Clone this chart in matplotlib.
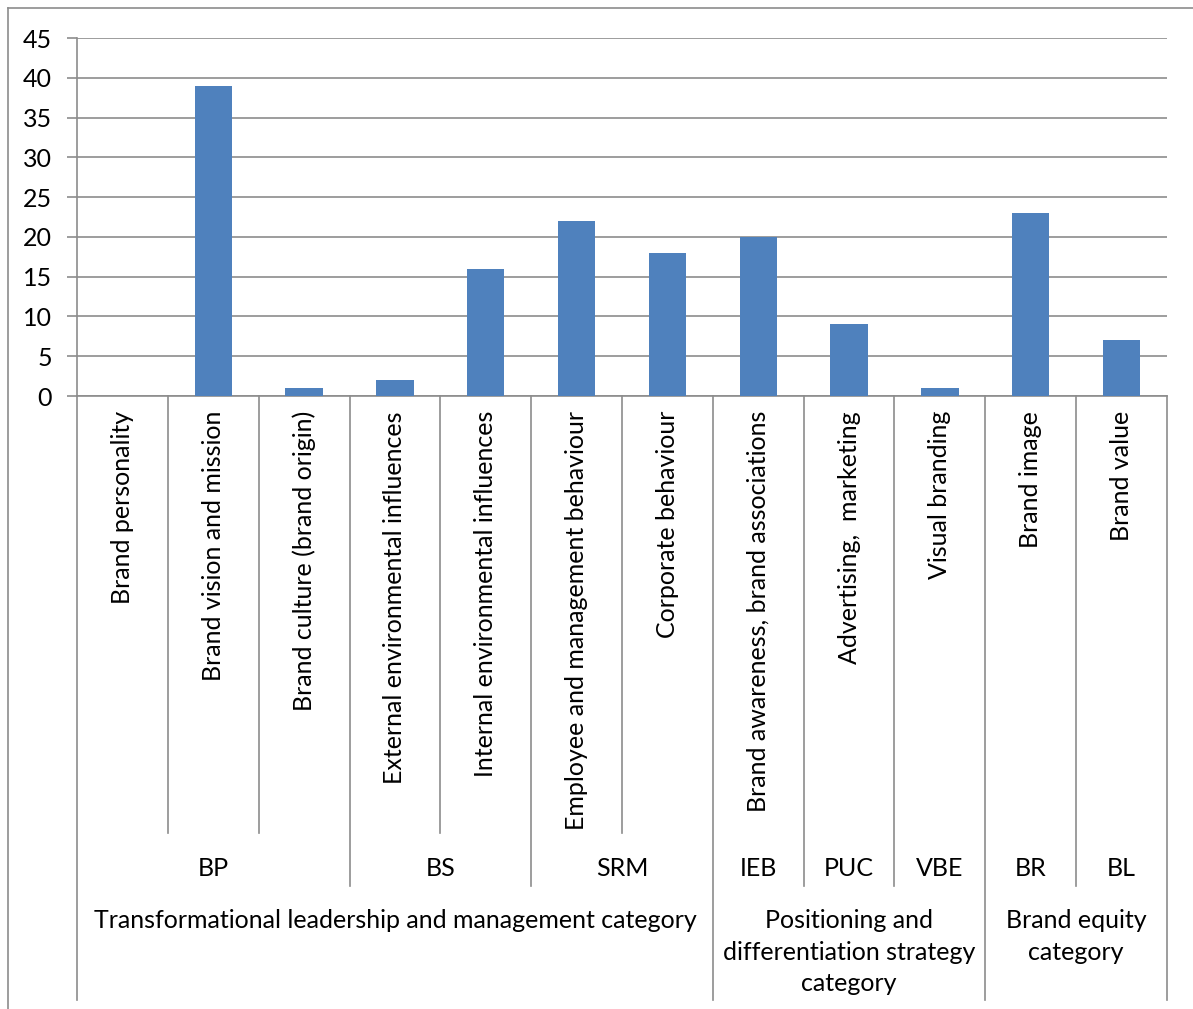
import numpy as np
import matplotlib.pyplot as plt
from matplotlib.transforms import blended_transform_factory

# data
labels = ["Brand personality", "Brand vision and mission", "Brand culture (brand origin)",
          "External environmental influences", "Internal environmental influences",
          "Employee and management behaviour", "Corporate behaviour",
          "Brand awareness, brand associations", "Advertising,  marketing",
          "Visual branding", "Brand image", "Brand value"]
values = [0, 39, 1, 2, 16, 22, 18, 20, 9, 1, 23, 7]
level2 = ["BP", "BP", "BP", "BS", "BS", "SRM", "SRM", "IEB", "PUC", "VBE", "BR", "BL"]
level3 = ["Transformational leadership and management category"] * 7 + \
         ["Positioning and\ndifferentiation strategy\ncategory"] * 3 + \
         ["Brand equity\ncategory"] * 2

plt.rcParams['font.family'] = ['Lato', 'DejaVu Sans']
W, H = 1193, 1009
fig = plt.figure(figsize=(W / 100, H / 100), dpi=100)
fs = 18

def fy(py):
    return 1 - py / H

left, right, top, bottom = 77, 1167, 38, 396
ax = fig.add_axes([left / W, fy(bottom), (right - left) / W, (bottom - top) / H])

grey = '#8c8c8c'
x = np.arange(len(values))
ax.bar(x, values, width=0.41, color='#4f81bd', zorder=3)
ax.set_xlim(-0.5, len(values) - 0.5)
ax.set_ylim(0, 45)
ax.set_yticks(range(0, 46, 5))
ax.yaxis.grid(True, color=grey, linewidth=1.2)
ax.set_axisbelow(True)
ax.set_xticks([])
for s in ['top', 'right']:
    ax.spines[s].set_visible(False)
for s in ['left', 'bottom']:
    ax.spines[s].set_color(grey)
    ax.spines[s].set_linewidth(1.2)
ax.tick_params(axis='y', length=7, color=grey, width=1.2, pad=11, labelsize=fs)

tr = blended_transform_factory(ax.transData, fig.transFigure)

# category labels
for i, lab in enumerate(labels):
    ax.text(i, fy(411), lab, rotation=90, ha='center', va='top', fontsize=fs,
            transform=tr)

def spans(groups):
    out = []
    start = 0
    for i in range(1, len(groups) + 1):
        if i == len(groups) or groups[i] != groups[start]:
            out.append((start, i - 1, groups[start]))
            start = i
    return out

for a, b, g in spans(level2):
    ax.text((a + b) / 2, fy(869), g, ha='center', va='center', fontsize=fs, transform=tr)
for a, b, g in spans(level3):
    ax.text((a + b) / 2, fy(909), g, ha='center', va='top', fontsize=fs,
            linespacing=1.45, transform=tr)

# separators between categories
b2 = {a - 0.5 for a, b, g in spans(level2)}
b3 = {a - 0.5 for a, b, g in spans(level3)} | {len(values) - 0.5}
for i in range(len(values) + 1):
    xb = i - 0.5
    if xb in b3:
        yend = 1000
    elif xb in b2:
        yend = 886
    else:
        yend = 833
    ax.plot([xb, xb], [fy(bottom), fy(yend)], color=grey, linewidth=1.2,
            transform=tr, clip_on=False)

# outer chart border
fig.add_artist(plt.Line2D([8 / W, 1], [fy(8), fy(8)], color=grey, linewidth=1.2))
fig.add_artist(plt.Line2D([8 / W, 8 / W], [fy(8), 0], color=grey, linewidth=1.2))

fig.savefig('out.png', dpi=100, facecolor='white')
